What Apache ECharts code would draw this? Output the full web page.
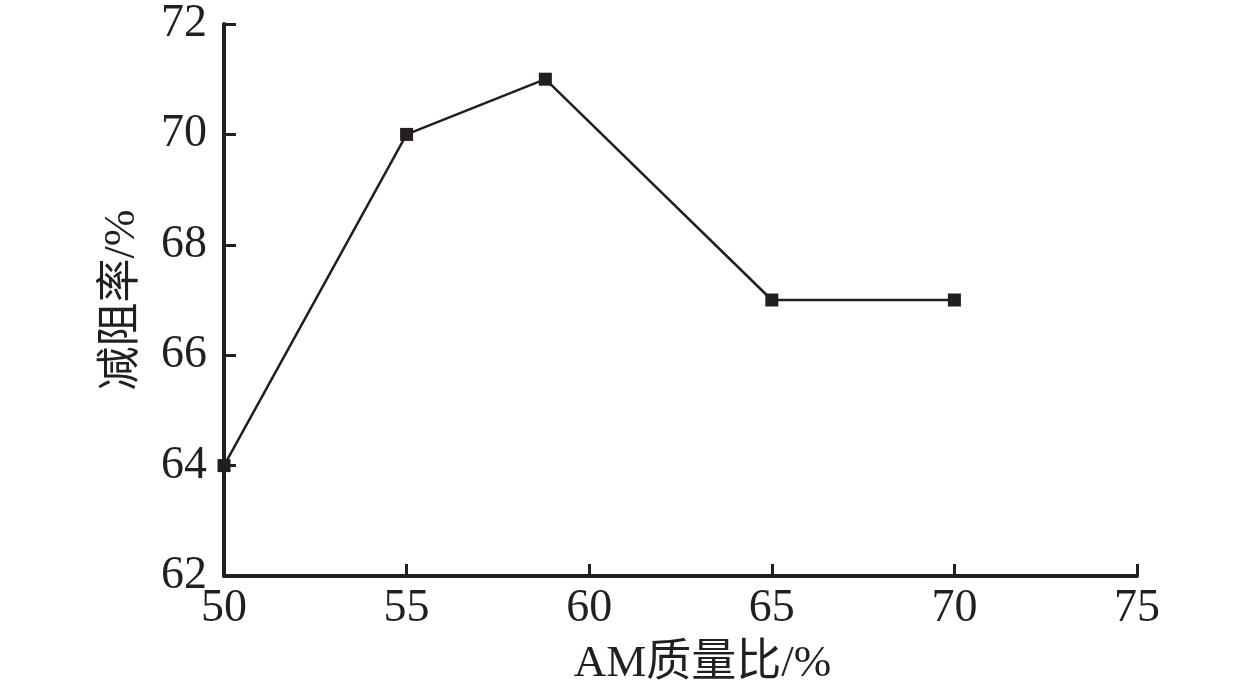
<!DOCTYPE html>
<html>
<head>
<meta charset="utf-8">
<script src="https://cdn.jsdelivr.net/npm/echarts@6/dist/echarts.min.js"></script>
<style>
html, body { margin: 0; padding: 0; background: #fff; }
#main { width: 1260px; height: 697px; }
</style>
</head>
<body>
<div id="main"></div>
<script>
// AM 质量比 vs 减阻率
var amRatio = [50, 55, 58.8, 65, 70];
var dragReduction = [64, 70, 71, 67, 67];

var fontFamily = "'Liberation Serif', 'Noto Sans CJK SC', serif";
var chart = echarts.init(document.getElementById('main'));

var data = amRatio.map(function (x, i) { return [x, dragReduction[i]]; });

var option = {
    backgroundColor: '#fff',
    animation: false,
    grid: {
        left: 224,
        right: 123,
        top: 24,
        bottom: 121
    },
    xAxis: {
        type: 'value',
        min: 50,
        max: 75,
        interval: 5,
        name: 'AM质量比/%',
        nameLocation: 'middle',
        nameGap: 66,
        nameTextStyle: { fontSize: 45, color: '#231f20', fontFamily: fontFamily, padding: [0, 0, 0, 44] },
        axisLine: { lineStyle: { color: '#231f20', width: 4 } },
        axisTick: { inside: true, length: 12, lineStyle: { color: '#231f20', width: 3 } },
        axisLabel: { fontSize: 46, color: '#231f20', fontFamily: fontFamily, margin: 10 },
        splitLine: { show: false }
    },
    yAxis: {
        type: 'value',
        min: 62,
        max: 72,
        interval: 2,
        name: '减阻率/%',
        nameLocation: 'middle',
        nameGap: 80,
        nameTextStyle: { fontSize: 44, color: '#231f20', fontFamily: fontFamily },
        axisLine: { lineStyle: { color: '#231f20', width: 4 } },
        axisTick: { inside: true, length: 12, lineStyle: { color: '#231f20', width: 3 } },
        axisLabel: { fontSize: 46, color: '#231f20', fontFamily: fontFamily, margin: 17 },
        splitLine: { show: false }
    },
    series: [
        {
            type: 'line',
            data: data,
            symbol: 'rect',
            symbolSize: 13,
            lineStyle: { color: '#231f20', width: 2.5 },
            itemStyle: { color: '#231f20' }
        }
    ]
};

chart.setOption(option);
</script>
</body>
</html>
